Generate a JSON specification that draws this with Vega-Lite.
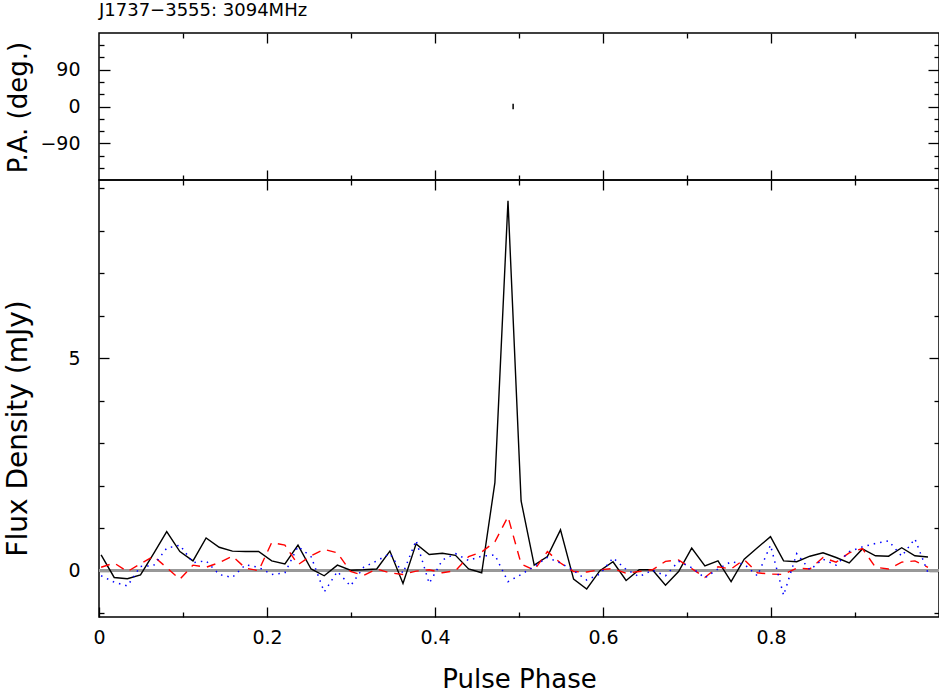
{
  "$schema": "https://vega.github.io/schema/vega-lite/v6.json",
  "padding": {"left": 3, "top": 1, "right": 0, "bottom": 0},
  "background": "white",
  "spacing": 0,
  "bounds": "flush",
  "config": {
    "view": {"stroke": "#000", "strokeWidth": 1.5},
    "axis": {
      "domain": false, "grid": false,
      "labelFont": "DejaVu Sans", "labelFontSize": 19, "labelColor": "#000",
      "tickColor": "#000", "tickWidth": 1.3,
      "titleFont": "DejaVu Sans", "titleFontSize": 26, "titleFontWeight": "normal", "titleColor": "#000",
      "labelFlush": false, "labelOverlap": false
    }
  },
  "datasets": {
    "profile": [
      {"phase":0.0025,"I":0.37,"L":0.08,"V":-0.12},
      {"phase":0.0181,"I":-0.16,"L":0.18,"V":-0.27},
      {"phase":0.0338,"I":-0.19,"L":-0.02,"V":-0.36},
      {"phase":0.0494,"I":-0.10,"L":0.16,"V":0.10},
      {"phase":0.0650,"I":0.40,"L":0.34,"V":0.12},
      {"phase":0.0806,"I":0.92,"L":0.07,"V":0.53},
      {"phase":0.0963,"I":0.45,"L":-0.20,"V":0.60},
      {"phase":0.1119,"I":0.23,"L":0.13,"V":0.19},
      {"phase":0.1275,"I":0.77,"L":0.08,"V":0.23},
      {"phase":0.1431,"I":0.55,"L":0.19,"V":-0.09},
      {"phase":0.1588,"I":0.46,"L":0.34,"V":-0.16},
      {"phase":0.1744,"I":0.45,"L":0.06,"V":0.14},
      {"phase":0.1900,"I":0.45,"L":0.00,"V":0.08},
      {"phase":0.2056,"I":0.23,"L":0.66,"V":-0.09},
      {"phase":0.2213,"I":0.16,"L":0.60,"V":-0.05},
      {"phase":0.2369,"I":0.60,"L":0.14,"V":0.57},
      {"phase":0.2525,"I":0.04,"L":0.35,"V":0.33},
      {"phase":0.2681,"I":-0.12,"L":0.50,"V":-0.50},
      {"phase":0.2838,"I":0.13,"L":0.42,"V":-0.02},
      {"phase":0.2994,"I":0.01,"L":-0.02,"V":-0.36},
      {"phase":0.3150,"I":0.02,"L":-0.11,"V":0.08},
      {"phase":0.3306,"I":0.04,"L":0.04,"V":0.23},
      {"phase":0.3463,"I":0.46,"L":-0.05,"V":0.40},
      {"phase":0.3619,"I":-0.30,"L":-0.09,"V":-0.06},
      {"phase":0.3775,"I":0.63,"L":-0.01,"V":0.71},
      {"phase":0.3931,"I":0.38,"L":0.02,"V":-0.30},
      {"phase":0.4088,"I":0.41,"L":-0.05,"V":0.25},
      {"phase":0.4244,"I":0.36,"L":0.00,"V":0.40},
      {"phase":0.4400,"I":0.04,"L":0.33,"V":0.24},
      {"phase":0.4556,"I":-0.05,"L":0.44,"V":0.34},
      {"phase":0.4713,"I":2.07,"L":0.68,"V":0.37},
      {"phase":0.4869,"I":8.70,"L":1.27,"V":-0.26},
      {"phase":0.5025,"I":1.64,"L":0.16,"V":-0.09},
      {"phase":0.5181,"I":0.13,"L":0.01,"V":0.10},
      {"phase":0.5338,"I":0.33,"L":0.45,"V":0.31},
      {"phase":0.5494,"I":0.96,"L":0.18,"V":0.18},
      {"phase":0.5650,"I":-0.20,"L":-0.02,"V":0.00},
      {"phase":0.5806,"I":-0.43,"L":-0.03,"V":-0.22},
      {"phase":0.5963,"I":0.00,"L":0.02,"V":-0.08},
      {"phase":0.6119,"I":0.21,"L":0.05,"V":0.30},
      {"phase":0.6275,"I":-0.23,"L":-0.06,"V":0.03},
      {"phase":0.6431,"I":0.02,"L":-0.02,"V":-0.14},
      {"phase":0.6588,"I":0.02,"L":0.02,"V":0.01},
      {"phase":0.6744,"I":-0.34,"L":0.22,"V":-0.12},
      {"phase":0.6900,"I":-0.02,"L":0.25,"V":0.22},
      {"phase":0.7056,"I":0.53,"L":0.05,"V":0.07},
      {"phase":0.7213,"I":0.11,"L":-0.16,"V":-0.17},
      {"phase":0.7369,"I":0.23,"L":0.09,"V":0.04},
      {"phase":0.7525,"I":-0.26,"L":0.04,"V":0.21},
      {"phase":0.7681,"I":0.27,"L":0.26,"V":0.15},
      {"phase":0.7838,"I":0.54,"L":-0.05,"V":-0.12},
      {"phase":0.7994,"I":0.80,"L":-0.08,"V":0.60},
      {"phase":0.8150,"I":0.23,"L":-0.09,"V":-0.58},
      {"phase":0.8306,"I":0.21,"L":0.06,"V":0.40},
      {"phase":0.8463,"I":0.34,"L":0.04,"V":0.02},
      {"phase":0.8619,"I":0.42,"L":0.31,"V":0.27},
      {"phase":0.8775,"I":0.31,"L":0.20,"V":0.13},
      {"phase":0.8931,"I":0.18,"L":0.42,"V":0.45},
      {"phase":0.9088,"I":0.51,"L":0.52,"V":0.56},
      {"phase":0.9244,"I":0.35,"L":0.08,"V":0.64},
      {"phase":0.9400,"I":0.34,"L":0.04,"V":0.70},
      {"phase":0.9556,"I":0.54,"L":0.20,"V":0.34},
      {"phase":0.9713,"I":0.35,"L":0.23,"V":0.75},
      {"phase":0.9869,"I":0.32,"L":0.08,"V":-0.05}
    ],
    "pa": [
      {"phase":0.493,"pa":0,"pa_lo":-7,"pa_hi":7}
    ]
  },
  "vconcat": [
    {
      "width": 840,
      "height": 147,
      "title": {"text": "J1737−3555: 3094MHz", "anchor": "start", "frame": "group", "fontSize": 18, "font": "DejaVu Sans", "fontWeight": "normal", "color": "#000", "baseline": "alphabetic", "offset": -2},
      "data": {"name": "pa"},
      "resolve": {"axis": {"x": "independent", "y": "independent"}},
      "layer": [
        {
          "mark": {"type": "rule", "color": "#000", "strokeWidth": 1.5},
          "encoding": {
            "x": {"field": "phase", "type": "quantitative", "scale": {"domain": [0, 1], "nice": false, "zero": false},
                  "axis": {"orient": "bottom", "values": [0.2, 0.4, 0.6, 0.8], "tickSize": -10, "labels": false, "title": null}},
            "y": {"field": "pa_lo", "type": "quantitative", "scale": {"domain": [-180, 180], "nice": false},
                  "axis": {"orient": "left", "values": [-90, 0, 90], "format": "d", "tickSize": -11, "labelPadding": 30,
                           "title": "P.A. (deg.)", "titleX": -73, "titleY": 74, "titleAngle": 270, "titleBaseline": "alphabetic", "titleAlign": "center"}},
            "y2": {"field": "pa_hi"}
          }
        },
        {
          "mark": {"type": "point", "opacity": 0},
          "encoding": {
            "x": {"field": "phase", "type": "quantitative", "axis": {"orient": "bottom", "values": [0.1, 0.3, 0.5, 0.7, 0.9], "tickSize": -5, "labels": false, "title": null}},
            "y": {"field": "pa", "type": "quantitative", "axis": {"orient": "left", "values": [-150, -120, -60, -30, 30, 60, 120, 150], "tickSize": -5, "labels": false, "title": null}}
          }
        },
        {
          "mark": {"type": "point", "opacity": 0},
          "encoding": {
            "x": {"field": "phase", "type": "quantitative", "axis": {"orient": "top", "values": [0.2, 0.4, 0.6, 0.8], "tickSize": -10, "labels": false, "title": null}},
            "y": {"field": "pa", "type": "quantitative", "axis": {"orient": "right", "values": [-90, 0, 90], "tickSize": -11, "labels": false, "title": null}}
          }
        },
        {
          "mark": {"type": "point", "opacity": 0},
          "encoding": {
            "x": {"field": "phase", "type": "quantitative", "axis": {"orient": "top", "values": [0.1, 0.3, 0.5, 0.7, 0.9], "tickSize": -5, "labels": false, "title": null}},
            "y": {"field": "pa", "type": "quantitative", "axis": {"orient": "right", "values": [-150, -120, -60, -30, 30, 60, 120, 150], "tickSize": -5, "labels": false, "title": null}}
          }
        }
      ]
    },
    {
      "width": 840,
      "height": 437,
      "data": {"name": "profile"},
      "resolve": {"axis": {"x": "independent", "y": "independent"}},
      "layer": [
        {
          "mark": {"type": "rule", "color": "#999999", "strokeWidth": 2},
          "encoding": {
            "y": {"datum": 0, "type": "quantitative", "scale": {"domain": [-1.09, 9.19], "nice": false, "zero": false}, "axis": null}
          }
        },
        {
          "mark": {"type": "line", "color": "#000", "strokeWidth": 1.4},
          "encoding": {
            "x": {"field": "phase", "type": "quantitative", "scale": {"domain": [0, 1], "nice": false, "zero": false},
                  "axis": {"orient": "bottom", "values": [0, 0.2, 0.4, 0.6, 0.8], "format": "~g", "tickSize": -10, "labelPadding": 21,
                           "title": "Pulse Phase", "titleY": 70, "titleBaseline": "alphabetic"}},
            "y": {"field": "I", "type": "quantitative",
                  "axis": {"orient": "left", "values": [0, 5], "format": "d", "tickSize": -10, "labelPadding": 29,
                           "title": "Flux Density (mJy)", "titleFontSize": 28, "titleX": -73, "titleY": 248, "titleAngle": 270, "titleBaseline": "alphabetic", "titleAlign": "center"}}
          }
        },
        {
          "mark": {"type": "line", "color": "#ff0000", "strokeWidth": 1.4, "strokeDash": [9, 7]},
          "encoding": {
            "x": {"field": "phase", "type": "quantitative", "axis": {"orient": "bottom", "values": [0.1, 0.3, 0.5, 0.7, 0.9], "tickSize": -5, "labels": false, "title": null}},
            "y": {"field": "L", "type": "quantitative", "axis": {"orient": "left", "values": [-1, 1, 2, 3, 4, 6, 7, 8, 9], "tickSize": -5, "labels": false, "title": null}}
          }
        },
        {
          "mark": {"type": "line", "color": "#0000ff", "strokeWidth": 1.5, "strokeDash": [1.5, 5]},
          "encoding": {
            "x": {"field": "phase", "type": "quantitative", "axis": {"orient": "top", "values": [0.2, 0.4, 0.6, 0.8], "tickSize": -10, "labels": false, "title": null}},
            "y": {"field": "V", "type": "quantitative", "axis": {"orient": "right", "values": [0, 5], "tickSize": -10, "labels": false, "title": null}}
          }
        },
        {
          "mark": {"type": "line", "opacity": 0},
          "encoding": {
            "x": {"field": "phase", "type": "quantitative", "axis": {"orient": "top", "values": [0.1, 0.3, 0.5, 0.7, 0.9], "tickSize": -5, "labels": false, "title": null}},
            "y": {"field": "I", "type": "quantitative", "axis": {"orient": "right", "values": [-1, 1, 2, 3, 4, 6, 7, 8, 9], "tickSize": -5, "labels": false, "title": null}}
          }
        }
      ]
    }
  ]
}
